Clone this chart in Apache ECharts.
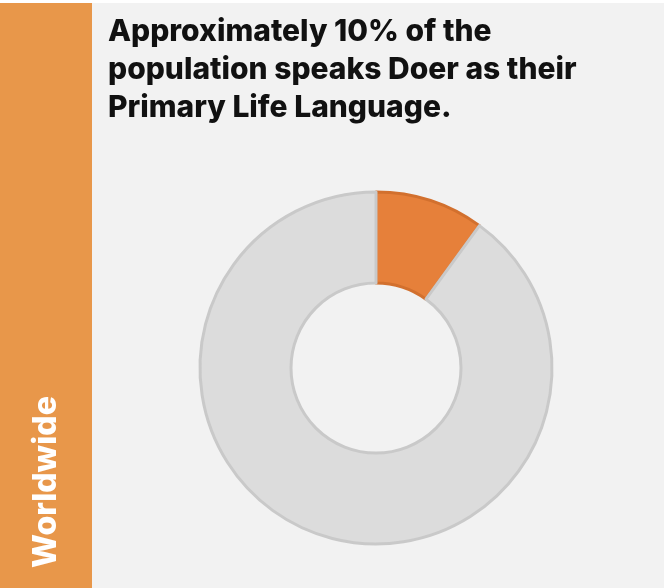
<!DOCTYPE html>
<html><head><meta charset="utf-8">
<script src="https://cdn.jsdelivr.net/npm/echarts@6/dist/echarts.min.js"></script>
<style>html,body{margin:0;padding:0;background:#fff}#c{width:664px;height:588px}</style>
</head><body><div id="c"></div>
<script>
const categories = ["Doer", "Other"];
const values = [10, 90];
const titleLines = ["Approximately 10% of the", "population speaks Doer as their", "Primary Life Language."];
const sideLabel = "Worldwide";

const chart = echarts.init(document.getElementById('c'), null, {renderer: 'canvas'});
const sliceColors = ["#E6803A", "#DCDCDC"];
const borderColors = ["#D2702E", "#C9C9C9"];
chart.setOption({
  backgroundColor: '#F2F2F2',
  animation: false,
  graphic: [
    {type: 'rect', shape: {x: 0, y: 0, width: 664, height: 3}, style: {fill: '#ffffff'}, z: 10},
    {type: 'rect', shape: {x: 0, y: 3, width: 92, height: 585}, style: {fill: '#E8974A'}},
    {type: 'text', x: 108, y: 13, style: {text: titleLines.join('\n'), font: '800 30px Inter', fill: '#111111', lineHeight: 38}},
    {type: 'text', x: 46, y: 482, rotation: Math.PI / 2, style: {text: sideLabel, font: '800 32px Inter', fill: '#ffffff', align: 'center', verticalAlign: 'middle'}}
  ],
  series: [{
    type: 'pie',
    center: [376, 368],
    radius: [85, 176],
    startAngle: 90,
    clockwise: true,
    label: {show: false},
    labelLine: {show: false},
    emphasis: {disabled: true},
    data: categories.map((n, i) => ({name: n, value: values[i], itemStyle: {color: sliceColors[i], borderColor: borderColors[i], borderWidth: 3}}))
  }]
});
</script></body></html>
